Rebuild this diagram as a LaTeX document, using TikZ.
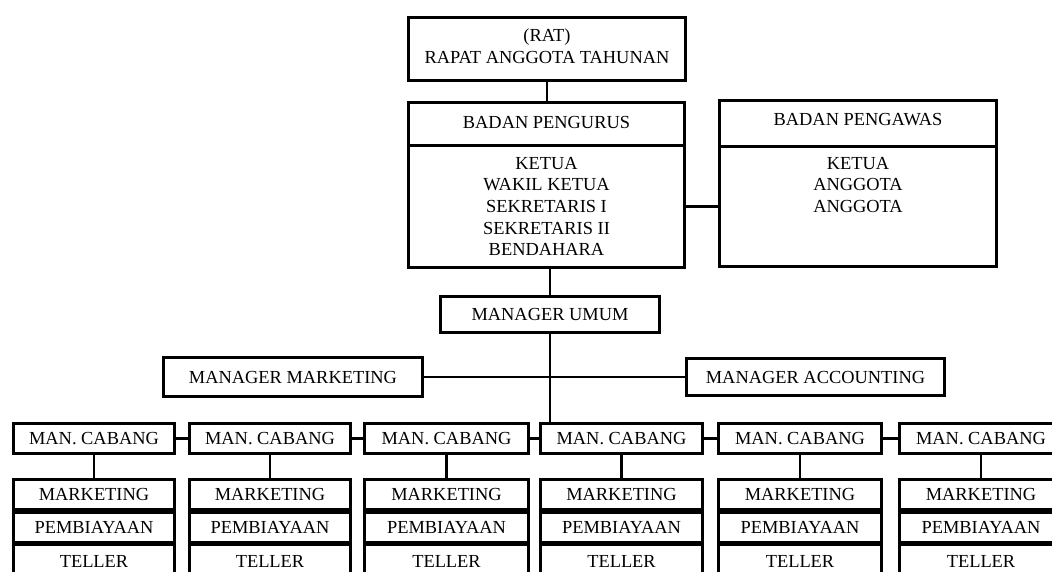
\documentclass[tikz,border=0pt]{standalone}
\usepackage{fontspec}
\setmainfont{Liberation Serif}
\newcommand\obox[7][]{\node[box,#1,minimum width={#5-#3-3},minimum height={#6-#4-3}] (#2) at ({(#3+#5)/2},{(#4+#6)/2}) {#7};}
\begin{document}
\begin{tikzpicture}[x=1pt,y=-1pt,
  box/.style={draw=black,fill=white,line width=2.8pt,inner sep=0pt,align=center,font=\fontsize{18.4}{21.7}\selectfont},
  link/.style={draw=black,line width=2.8pt}]
\clip (0,0) rectangle (1052,571);
\fill[white] (0,0) rectangle (1052,571);
% top part
\obox[text depth=6pt]{rat}{407}{16}{687}{82}{(RAT)\\RAPAT ANGGOTA TAHUNAN}
\obox[text depth=4pt]{bpt}{407}{101}{686}{147}{BADAN PENGURUS}
\obox{bpc}{407}{144}{686}{269}{KETUA\\WAKIL KETUA\\SEKRETARIS I\\SEKRETARIS II\\BENDAHARA}
\obox[text depth=9pt]{bpwt}{718}{99}{998}{148}{BADAN PENGAWAS}
\obox{bpwc}{718}{145}{998}{268}{KETUA\\ANGGOTA\\ANGGOTA\\~\\~}
\obox{mu}{439}{295}{661}{334}{MANAGER UMUM}
\obox{mm}{162}{356}{424}{398}{MANAGER MARKETING}
\obox{ma}{685}{357}{946}{397}{MANAGER ACCOUNTING}
% branch rows
\foreach \i/\l/\r in {1/12/176, 2/188/352, 3/363/530, 4/539/704, 5/717/883, 6/898/1064} {
  \obox{cb\i}{\l}{422}{\r}{455}{MAN. CABANG}
  \obox{mk\i}{\l}{478}{\r}{511}{MARKETING}
  \obox{pb\i}{\l}{511}{\r}{544}{PEMBIAYAAN}
  \obox{tl\i}{\l}{543}{\r}{580}{TELLER}
  \draw[link] (cb\i.south) -- (mk\i.north);
}
% connectors
\draw[link] (rat.south) -- (rat.south |- bpt.north);
\draw[link] (bpc.east) -- (bpwc.west);
\draw[link] (mu.north |- bpc.south) -- (mu.north);
\draw[link] (mu.south) -- (mu.south |- cb4.north);
\draw[link] (mm.east) -- (mm.east -| ma.west);
\foreach \a/\b in {1/2,2/3,3/4,4/5,5/6} \draw[link] (cb\a.east) -- (cb\b.west);
\end{tikzpicture}
\end{document}
